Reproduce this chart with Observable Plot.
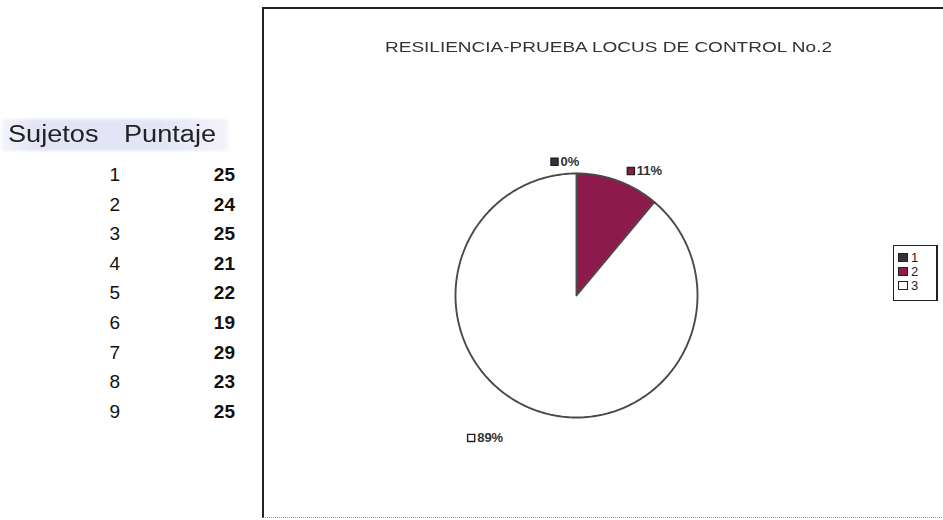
<!DOCTYPE html>
<html><head><meta charset="utf-8">
<script src="https://cdn.jsdelivr.net/npm/d3@7"></script>
<script src="https://cdn.jsdelivr.net/npm/@observablehq/plot@0.6"></script>
<style>
body{margin:0;width:943px;height:520px;overflow:hidden;background:#fff;font-family:"Liberation Sans",Arial,sans-serif;position:relative}
#hdr{position:absolute;left:2px;top:119px;height:32px;width:226px;background:linear-gradient(90deg,#f2f3fc 0%,#e3e5f6 15%,#e3e5f6 70%,#f3f3fb 100%);filter:blur(1.5px)}
.htxt{position:absolute;top:121px;font-size:23px;color:#222;white-space:nowrap;transform-origin:0 0;transform:scaleX(1.18)}
.cell{position:absolute;font-size:19px;color:#111;line-height:20px;text-align:right}
#frame{position:absolute;left:262px;top:7px;width:720px;height:508px;border-left:2px solid #222;border-top:2px solid #222;border-bottom:1px dotted #999}
#title{position:absolute;top:38px;font-size:15px;color:#333;white-space:nowrap;transform-origin:0 0}
#chart{position:absolute;left:263px;top:8px}
#legend{position:absolute;left:893px;top:245px;width:42px;height:54px;border:1.5px solid #222;border-right:2px solid #222}
.li{position:absolute;left:4px;font-size:13px;color:#222;line-height:13px}
.li span{display:inline-block;width:8px;height:7px;border:1px solid #222;margin-right:3px;vertical-align:0px}
</style></head><body>
<div id="hdr"></div>
<div id="table"></div>
<div id="frame"></div>
<div id="title"></div>
<div id="chart"></div>
<div id="legend"></div>
<script>
const headers=["Sujetos","Puntaje"];
const sujetos=[1,2,3,4,5,6,7,8,9];
const puntajes=[25,24,25,21,22,19,29,23,25];
const title="RESILIENCIA-PRUEBA LOCUS DE CONTROL No.2";
const categories=["1","2","3"];
const counts=[0,1,8];
const percentLabels=["0%","11%","89%"];
const colors=["#35323f","#8c1a4b","#ffffff"];

// table
const tbl=document.getElementById("table");
const h1=document.createElement("div");h1.className="htxt";h1.style.left="8px";h1.textContent=headers[0];tbl.appendChild(h1);
const h2=document.createElement("div");h2.className="htxt";h2.style.left="124px";h2.textContent=headers[1];tbl.appendChild(h2);
sujetos.forEach((s,i)=>{
  const top=165+i*29.6;
  const a=document.createElement("div");a.className="cell";a.style.left="88px";a.style.width="32px";a.style.top=top+"px";a.textContent=s;tbl.appendChild(a);
  const b=document.createElement("div");b.className="cell";b.style.left="190px";b.style.width="45px";b.style.top=top+"px";b.style.fontWeight="bold";b.textContent=puntajes[i];tbl.appendChild(b);
});

// title
const t=document.getElementById("title");t.textContent=title;
const tw=t.getBoundingClientRect().width;const sc=447/tw;
t.style.transform=`scaleX(${sc})`;t.style.left=(385)+"px";

// pie data
const data=categories.map((c,i)=>({cat:c,count:counts[i],label:percentLabels[i],color:colors[i]}));
const arcs=d3.pie().sort(null).value(d=>d.count)(data);
const pts=[];
arcs.forEach(a=>{
  const span=a.endAngle-a.startAngle;
  if(span<=0) return;
  const full=span>=2*Math.PI-1e-9;
  if(!full) pts.push({cat:a.data.cat,x:0,y:0});
  const n=Math.max(2,Math.ceil(span/(Math.PI/180)));
  for(let i=0;i<=n;i++){const th=a.startAngle+span*i/n;pts.push({cat:a.data.cat,x:Math.sin(th),y:Math.cos(th)});}
});
const labelPts=arcs.map(a=>{const m=(a.startAngle+a.endAngle)/2;return {...a.data,x:Math.sin(m)*1.12,y:Math.cos(m)*1.12};});
const offs={"1":[-22,3],"2":[8,4],"3":[-59,14]};

const marks=[];
data.forEach(d=>{
  const p=pts.filter(q=>q.cat===d.cat);
  if(p.length) marks.push(Plot.line(p,{x:"x",y:"y",fill:d.color,stroke:"#4a4a4a",strokeWidth:1.9,curve:"linear-closed",strokeLinejoin:"round"}));
});
labelPts.forEach(d=>{
  const [dx,dy]=offs[d.cat];
  marks.push(Plot.dot([d],{x:"x",y:"y",dx:dx,dy:dy,symbol:"square",r:4,fill:d.color,stroke:"#222",strokeWidth:1.4}));
  marks.push(Plot.text([d],{x:"x",y:"y",text:"label",dx:dx+6,dy:dy,textAnchor:"start",fontSize:13,fontWeight:"bold",fill:"#333"}));
});

const chart=Plot.plot({
  width:680,height:508,margin:0,
  style:{fontFamily:"'Liberation Sans',Arial,sans-serif",background:"transparent",overflow:"visible"},
  x:{domain:[-1,1],range:[192,434],axis:null},
  y:{domain:[-1,1],range:[409,165],axis:null},
  marks
});
document.getElementById("chart").appendChild(chart);

// legend
const lg=document.getElementById("legend");
categories.forEach((c,i)=>{
  const e=document.createElement("div");e.className="li";e.style.top=(5+i*14)+"px";
  const sw=document.createElement("span");sw.style.background=colors[i];
  e.appendChild(sw);e.appendChild(document.createTextNode(c));lg.appendChild(e);
});
</script>
</body></html>
